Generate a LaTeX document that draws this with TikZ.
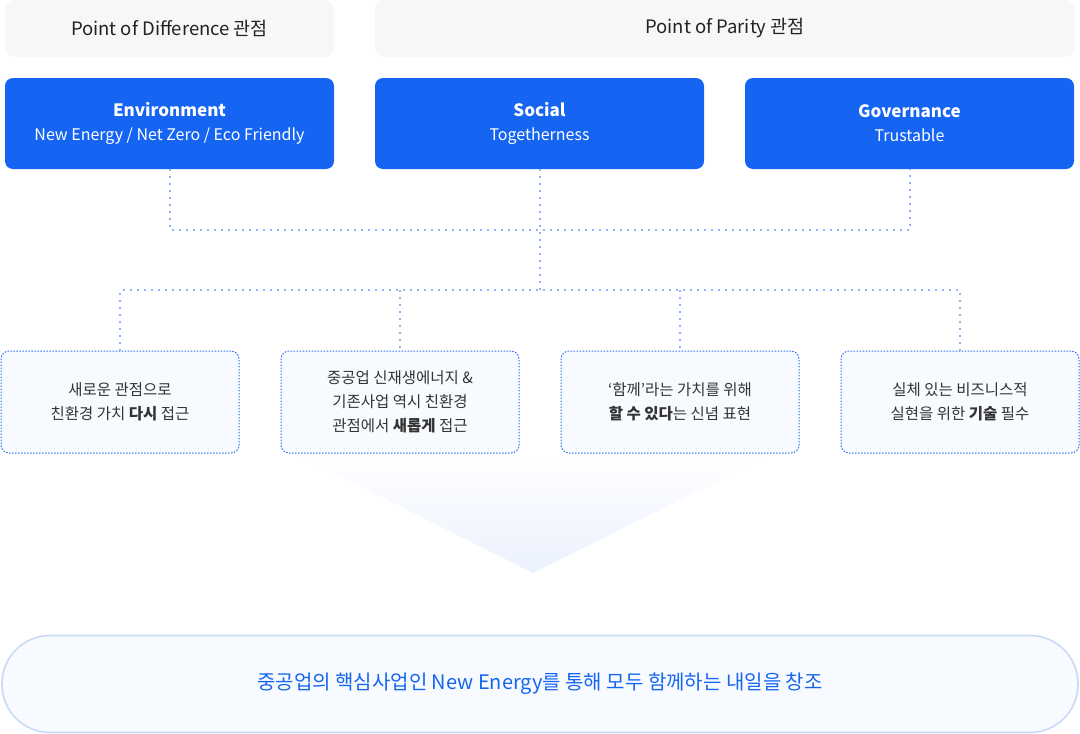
\documentclass[tikz,border=0pt]{standalone}
\usepackage{fontspec}
\setmainfont{Noto Sans CJK KR}
\definecolor{hdrbg}{HTML}{F7F7F7}
\definecolor{hdrtx}{HTML}{222222}
\definecolor{esgblue}{HTML}{1565F2}
\definecolor{connblue}{HTML}{8EB2F2}
\definecolor{boxline}{HTML}{2D6FF0}
\definecolor{boxbg}{HTML}{F7FAFF}
\definecolor{boxtx}{HTML}{333333}
\definecolor{pillline}{HTML}{C8DAF8}
\definecolor{pilltx}{HTML}{1565F0}
\definecolor{tribot}{HTML}{EBF1FE}
\begin{document}
\begin{tikzpicture}[x=1pt,y=-1pt,
  hdr/.style={fill=hdrbg, rounded corners=10pt, text=hdrtx, font=\fontsize{18.5}{22}\selectfont, minimum height=57pt},
  esg/.style={fill=esgblue, rounded corners=8pt, text=white, align=center, minimum width=329pt, minimum height=91pt, font=\fontsize{16}{24}\selectfont},
  conn/.style={draw=connblue, line width=2pt, dash pattern=on 2pt off 5pt},
  idea/.style={draw=boxline, fill=boxbg, line width=1pt, dash pattern=on 1.5pt off 1.5pt, rounded corners=8pt, minimum width=238pt, minimum height=102pt, align=center, text=boxtx, font=\fontsize{15.5}{24}\selectfont},
  pill/.style={draw=pillline, fill=boxbg, line width=1.6pt, rounded corners=48pt, minimum width=1076pt, minimum height=97pt, text=pilltx, font=\fontsize{20}{24}\selectfont}
]
\useasboundingbox (0,0) rectangle (1080,734);
% triangle
\shade[top color=white, bottom color=tribot] (292,452) -- (776,452) -- (533,573) -- cycle;
% headers
\node[hdr, minimum width=329pt] (h1) at (169.5,28.5) {Point of Difference 관점};
\node[hdr, minimum width=700pt] (h2) at (725,28.5) {Point of Parity 관점};
% ESG boxes
\node[esg] (e1) at (169.5,123.5) {{\bfseries\fontsize{17}{24}\selectfont Environment}\\New Energy / Net Zero / Eco Friendly};
\node[esg] (e2) at (539.5,123.5) {{\bfseries\fontsize{17}{24}\selectfont Social}\\Togetherness};
\node[esg] (e3) at (909.5,123.5) {{\bfseries\fontsize{17}{24}\selectfont Governance}\\Trustable};
% idea boxes
\node[idea] (b1) at (120,402) {새로운 관점으로\\친환경 가치 \textbf{다시} 접근};
\node[idea] (b2) at (400,402) {중공업 신재생에너지 \&\\기존사업 역시 친환경\\관점에서 \textbf{새롭게} 접근};
\node[idea] (b3) at (680,402) {‘함께’라는 가치를 위해\\\textbf{할 수 있다}는 신념 표현};
\node[idea] (b4) at (960,402) {실체 있는 비즈니스적\\실현을 위한 \textbf{기술} 필수};
% connectors
\coordinate (ja) at (170,230);
\coordinate (jb) at (910,230);
\coordinate (jm) at (540,230);
\coordinate (jl) at (540,290);
\draw[conn] (e1.south -| ja) -- (ja) -- (jb) -- (e3.south -| jb);
\draw[conn] (e2.south -| jm) -- (jl);
\draw[conn] (b1.north) -- (b1.north |- jl) -- (b4.north |- jl) -- (b4.north);
\draw[conn] (b2.north |- jl) -- (b2.north);
\draw[conn] (b3.north |- jl) -- (b3.north);
% bottom
\node[pill] (p) at (540,684) {중공업의 핵심사업인 New Energy를 통해 모두 함께하는 내일을 창조};
\end{tikzpicture}
\end{document}
